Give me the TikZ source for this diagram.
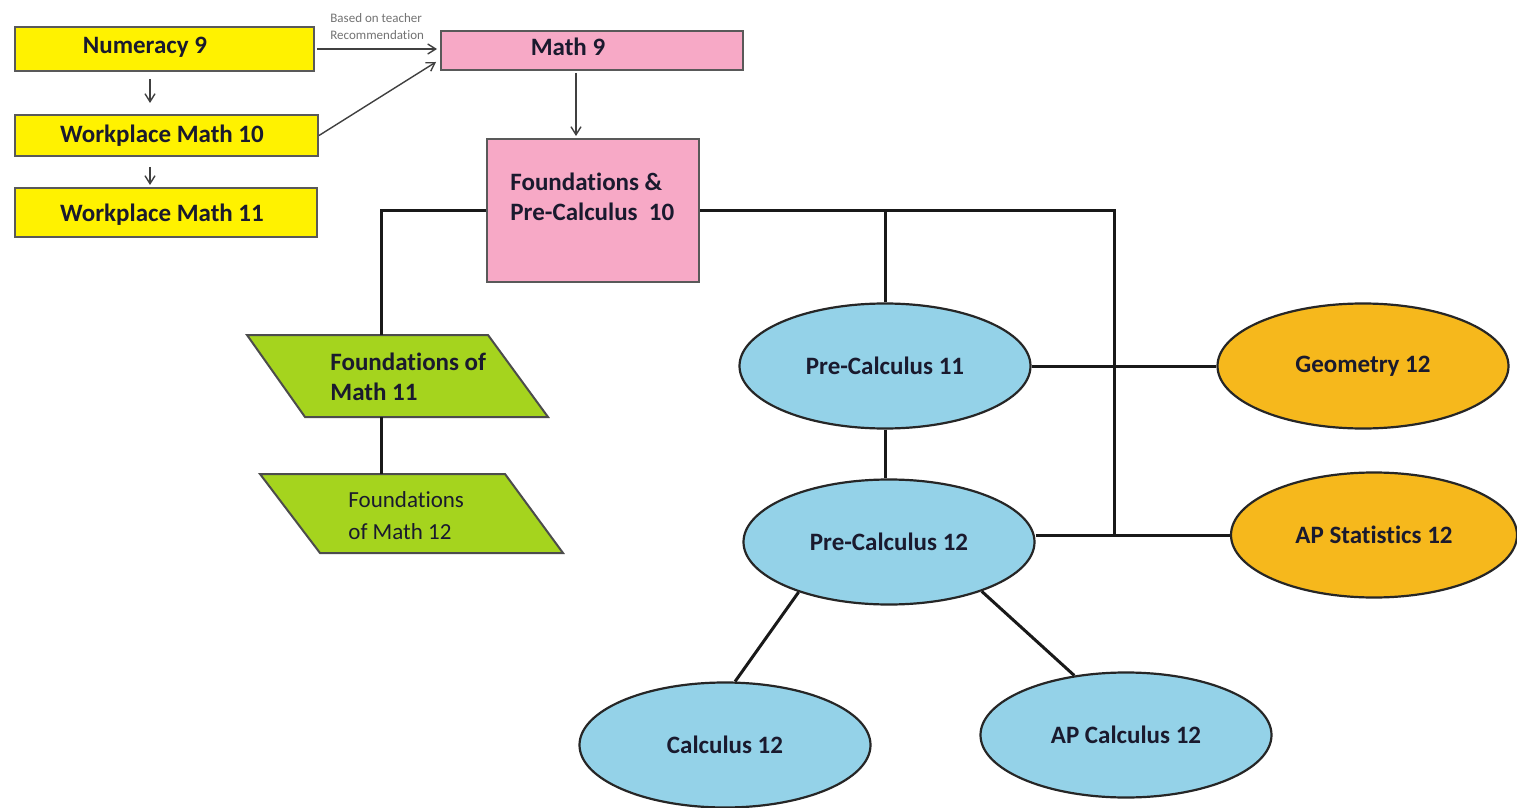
\documentclass[tikz,border=0pt]{standalone}
\usepackage{fontspec}
\setmainfont{Carlito}[Ligatures=NoCommon]
\usetikzlibrary{shapes.geometric,arrows.meta}
\definecolor{cyel}{HTML}{FFF200}
\definecolor{cpink}{HTML}{F7A9C6}
\definecolor{cgreen}{HTML}{A5D41E}
\definecolor{cblue}{HTML}{94D2E8}
\definecolor{corange}{HTML}{F6B81C}
\definecolor{ctext}{HTML}{1A1A2E}
\begin{document}
\begin{tikzpicture}[x=0.5pt,y=-0.5pt,
 box/.style={draw=black!65, line width=1pt, inner sep=0pt},
 ybox/.style={box, fill=cyel},
 pbox/.style={box, fill=cpink},
 pgram/.style={draw=black!70, line width=1pt, fill=cgreen},
 oval/.style={ellipse, draw=black!85, line width=1.1pt, inner sep=0pt, minimum width=145.5pt, minimum height=62.5pt, font=\fontsize{12.5}{15}\selectfont\bfseries, text=ctext},
 bluev/.style={oval, fill=cblue},
 orangev/.style={oval, fill=corange},
 lbl/.style={font=\fontsize{12.5}{15}\selectfont\bfseries, text=ctext, inner sep=0pt},
 arr/.style={-{Straight Barb[length=4pt,width=5pt]}, line width=0.7pt, draw=black!75},
 conn/.style={line width=1.5pt, draw=black!90}
]
\useasboundingbox (0,0) rectangle (1517,808);
\fill[white] (0,0) rectangle (1517,808);

% left column
\node[ybox, minimum width=149.5pt, minimum height=22pt] (num9) at (164.5,49) {};
\node[lbl] (num9t) at (145,47) {Numeracy 9};
\node[ybox, minimum width=151.5pt, minimum height=20.5pt] (wm10) at (166.5,135.5) {};
\node[lbl] (wm10t) at (162,136) {Workplace Math 10};
\node[ybox, minimum width=151pt, minimum height=24.5pt] (wm11) at (166,212.5) {};
\node[lbl] (wm11t) at (162,215) {Workplace Math 11};

% pink
\node[pbox, minimum width=151pt, minimum height=19.5pt] (m9) at (592,50.5) {};
\node[lbl] (m9t) at (568,47) {Math 9};
\node[pbox, minimum width=106pt, minimum height=71.5pt] (fpc) at (593,210.5) {};
\node[lbl, align=left, anchor=west] (fpct) at (510,197) {Foundations \&\\Pre-Calculus~~10};

% arrows
\draw[arr] ([xshift=-7.25pt,yshift=-3.5pt]num9.south) -- ([xshift=-8.25pt,yshift=5.5pt]wm10.north);
\draw[arr] ([xshift=-8.25pt,yshift=-5pt]wm10.south) -- ([xshift=-8pt,yshift=1pt]wm11.north);
\draw[arr] ([xshift=1pt]num9.east) -- ([xshift=-1.5pt]m9.west |- num9.east);
\node[font=\fontsize{6.5}{8.5}\selectfont, text=black!55, align=left, anchor=south west, inner sep=0pt] (bt) at (330,40) {Based on teacher\\Recommendation};
\draw[arr] (wm10.east) -- ([xshift=-2pt,yshift=4.5pt]m9.south west);
\draw[arr] ([xshift=-8pt,yshift=-1pt]m9.south) -- ([xshift=-8.5pt,yshift=1pt]fpc.north);

% green parallelograms
\draw[pgram] (247,335) -- (488,335) -- (548,417) -- (305,417) -- cycle;
\node[lbl, align=left, anchor=west] (fm11) at (330,377) {Foundations of\\Math 11};
\draw[pgram] (260,474) -- (505,474) -- (563,553) -- (320,553) -- cycle;
\node[lbl, font=\fontsize{11.5}{16}\selectfont, align=left, anchor=west] (fm12) at (348,516) {Foundations\\of Math 12};
\coordinate (fm11top) at (381,335);
\coordinate (fm11bot) at (381,417);
\coordinate (fm12top) at (381,474);

% ellipses
\node[bluev] (pc11) at (885,366) {Pre-Calculus 11};
\node[bluev] (pc12) at (889,542) {Pre-Calculus 12};
\node[orangev] (geo) at (1363,366) {Geometry 12};
\node[orangev, minimum width=143pt] (aps) at (1374,535) {AP Statistics 12};
\node[bluev] (calc) at (725,745) {Calculus 12};
\node[bluev] (apc) at (1126,735) {AP Calculus 12};

% connectors
\coordinate (jr) at (1114,210.5);
\coordinate (jb) at (1114,535);
\draw[conn] (fpc.west) -| (fm11top);
\draw[conn] (fm11bot) -- (fm12top);
\draw[conn] (fpc.east) -- (jr) -- (jb);
\draw[conn] (pc11.north) -- (pc11.north |- jr);
\draw[conn] (pc11.east) -- (geo.west);
\draw[conn] (pc11.south) -- (pc11.south |- pc12.north);
\draw[conn] (aps.west -| pc12.east) -- (aps.west);
\draw[conn] (pc12.209) -- (calc.81);
\draw[conn] (pc12.332) -- (apc.131);
\end{tikzpicture}
\end{document}
